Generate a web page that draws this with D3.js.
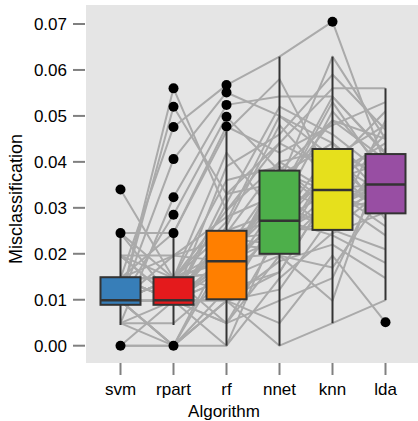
<!DOCTYPE html>
<html>
<head>
<meta charset="utf-8">
<script src="https://cdn.jsdelivr.net/npm/d3@7"></script>
<style>
  html, body { margin: 0; padding: 0; background: #ffffff; }
  svg { display: block; font-family: "Liberation Sans", Arial, sans-serif; }
</style>
</head>
<body>
<svg id="chart" width="418" height="421"></svg>
<script>
// Algorithms compared, in plotting order
const algorithms = ["svm", "rpart", "rf", "nnet", "knn", "lda"];
const boxColors = ["#377EB8", "#E41A1C", "#FF7F00", "#4DAF4A", "#E6E01C", "#984EA3"];

// Misclassification rate per resampling fold (same fold order in every array)
const svm   = [0, 0.0098, 0.0098, 0.0147, 0.0098, 0.0049, 0.0098, 0.0147, 0.0245, 0.0245,
               0.0245, 0.0340, 0.0196, 0.0196, 0.0196, 0.0147, 0.0147, 0.0098, 0.0098, 0.0147,
               0.0098, 0.0098, 0.0049, 0.0098, 0.0098, 0.0147, 0.0098, 0.0098, 0.0049, 0.0098,
               0.0147, 0.0098, 0.0098, 0.0098, 0, 0.0098, 0.0147, 0, 0.0098, 0.0098,
               0.0147, 0.0098, 0.0049, 0.0098, 0.0147, 0.0098, 0.0196, 0.0098, 0.0147, 0.0098];
const rpart = [0, 0.0560, 0.0520, 0.0476, 0.0406, 0.0323, 0.0285, 0.0245, 0.0245, 0.0147,
               0.0098, 0.0147, 0.0098, 0.0196, 0.0098, 0.0147, 0.0098, 0.0098, 0, 0.0147,
               0.0098, 0.0147, 0.0098, 0.0196, 0.0098, 0.0098, 0.0147, 0.0098, 0.0049, 0.0098,
               0.0147, 0.0098, 0, 0.0098, 0, 0, 0.0098, 0.0098, 0.0147, 0.0098,
               0.0098, 0.0147, 0, 0.0147, 0.0196, 0.0098, 0.0147, 0, 0.0098, 0.0147];
const rf    = [0, 0.0294, 0.0330, 0.0567, 0.0551, 0.0524, 0.0498, 0.0477, 0.0466, 0.0420,
               0.0390, 0.0360, 0.0310, 0.0280, 0.0260, 0.0250, 0.0245, 0.0233, 0.0220, 0.0208,
               0.0196, 0.0190, 0.0184, 0.0184, 0.0184, 0.0172, 0.0160, 0.0147, 0.0147, 0.0147,
               0.0122, 0.0101, 0.0098, 0.0098, 0.0098, 0.0098, 0.0049, 0.0049, 0.0049, 0,
               0.0330, 0.0270, 0.0196, 0.0160, 0.0233, 0.0101, 0.0294, 0.0122, 0.0245, 0.0184];
const nnet  = [0.0147, 0.0441, 0.0355, 0.0629, 0.0500, 0.0542, 0.0380, 0.0420, 0.0580, 0.0272,
               0.0460, 0.0390, 0.0520, 0.0330, 0.0480, 0.0294, 0.0400, 0.0245, 0.0210, 0.0370,
               0.0305, 0.0200, 0.0265, 0.0343, 0.0233, 0.0381, 0.0285, 0.0255, 0.0196, 0.0320,
               0.0275, 0.0160, 0.0184, 0.0122, 0, 0.0049, 0.0098, 0.0196, 0.0245, 0.0270,
               0.0441, 0.0500, 0.0343, 0.0381, 0.0220, 0.0294, 0.0400, 0.0160, 0.0272, 0.0330];
const knn   = [0.0245, 0.0560, 0.0629, 0.0705, 0.0410, 0.0542, 0.0330, 0.0480, 0.0360, 0.0392,
               0.0590, 0.0300, 0.0460, 0.0542, 0.0350, 0.0510, 0.0428, 0.0270, 0.0320, 0.0441,
               0.0260, 0.0400, 0.0380, 0.0490, 0.0339, 0.0294, 0.0370, 0.0252, 0.0170, 0.0530,
               0.0240, 0.0343, 0.0220, 0.0285, 0.0049, 0.0196, 0.0147, 0.0098, 0.0310, 0.0339,
               0.0380, 0.0441, 0.0294, 0.0490, 0.0400, 0.0260, 0.0330, 0.0343, 0.0428, 0.0252];
const lda   = [0.0290, 0.0560, 0.0450, 0.0392, 0.0480, 0.0420, 0.0343, 0.0530, 0.0400, 0.0510,
               0.0470, 0.0352, 0.0370, 0.0417, 0.0300, 0.0380, 0.0275, 0.0360, 0.0240, 0.0351,
               0.0490, 0.0330, 0.0288, 0.0405, 0.0260, 0.0320, 0.0441, 0.0210, 0.0335, 0.0365,
               0.0180, 0.0310, 0.0147, 0.0345, 0.0099, 0.0051, 0.0390, 0.0430, 0.0350, 0.0460,
               0.0405, 0.0320, 0.0380, 0.0450, 0.0300, 0.0417, 0.0288, 0.0351, 0.0360, 0.0343];

// Box summaries: lower whisker, first quartile, median, third quartile, upper whisker
const whiskerLow  = [0.0045, 0.0045, 0.0000, 0.0000, 0.0049, 0.0099];
const quartile1   = [0.0089, 0.0089, 0.0101, 0.0200, 0.0252, 0.0288];
const medians     = [0.0099, 0.0099, 0.0184, 0.0272, 0.0339, 0.0351];
const quartile3   = [0.0149, 0.0149, 0.0250, 0.0381, 0.0428, 0.0417];
const whiskerHigh = [0.0240, 0.0240, 0.0466, 0.0629, 0.0629, 0.0560];

// Points outside the whiskers
const outliers = [
  [0, 0.0245, 0.0340],
  [0, 0.0245, 0.0285, 0.0323, 0.0406, 0.0476, 0.0520, 0.0560],
  [0.0477, 0.0498, 0.0524, 0.0551, 0.0567],
  [],
  [0.0705],
  [0.0051]
];

const yTicks = [0, 0.01, 0.02, 0.03, 0.04, 0.05, 0.06, 0.07];

const folds = d3.range(svm.length).map(i => [svm[i], rpart[i], rf[i], nnet[i], knn[i], lda[i]]);

const svg = d3.select("#chart");
const panel = { left: 86, right: 418, top: 5, bottom: 363 };

const x = d3.scalePoint().domain(algorithms).range([120.5, 385.5]);
const y = d3.scaleLinear().domain([0, 0.07]).range([345.7, 24]);
const boxW = 40;
const fontSize = 17;

// Grey panel background
svg.append("rect")
  .attr("x", panel.left).attr("y", panel.top)
  .attr("width", panel.right - panel.left).attr("height", panel.bottom - panel.top)
  .attr("fill", "#E5E5E5");

// Paired fold lines across algorithms
const line = d3.line().x((d, i) => x(algorithms[i])).y(d => y(d));
svg.append("g")
  .selectAll("path")
  .data(folds)
  .join("path")
  .attr("d", line)
  .attr("fill", "none")
  .attr("stroke", "#AAAAAA")
  .attr("stroke-width", 2)
  .attr("stroke-linejoin", "round");

// Boxplots
const boxes = svg.append("g")
  .selectAll("g")
  .data(algorithms)
  .join("g");

boxes.append("line")
  .attr("x1", d => x(d)).attr("x2", d => x(d))
  .attr("y1", (d, i) => y(whiskerLow[i])).attr("y2", (d, i) => y(quartile1[i]))
  .attr("stroke", "#333333").attr("stroke-width", 2);

boxes.append("line")
  .attr("x1", d => x(d)).attr("x2", d => x(d))
  .attr("y1", (d, i) => y(quartile3[i])).attr("y2", (d, i) => y(whiskerHigh[i]))
  .attr("stroke", "#333333").attr("stroke-width", 2);

boxes.append("rect")
  .attr("x", d => x(d) - boxW / 2)
  .attr("y", (d, i) => y(quartile3[i]))
  .attr("width", boxW)
  .attr("height", (d, i) => y(quartile1[i]) - y(quartile3[i]))
  .attr("fill", (d, i) => boxColors[i])
  .attr("stroke", "#333333").attr("stroke-width", 2);

boxes.append("line")
  .attr("x1", d => x(d) - boxW / 2).attr("x2", d => x(d) + boxW / 2)
  .attr("y1", (d, i) => y(medians[i])).attr("y2", (d, i) => y(medians[i]))
  .attr("stroke", "#333333").attr("stroke-width", 2.5);

boxes.selectAll("circle")
  .data((d, i) => outliers[i].map(v => ({ alg: d, v })))
  .join("circle")
  .attr("cx", p => x(p.alg))
  .attr("cy", p => y(p.v))
  .attr("r", 5)
  .attr("fill", "#000000");

// Y axis
const yAxis = svg.append("g");
yAxis.selectAll("line")
  .data(yTicks)
  .join("line")
  .attr("x1", 73).attr("x2", 85)
  .attr("y1", d => y(d)).attr("y2", d => y(d))
  .attr("stroke", "#808080").attr("stroke-width", 2);
yAxis.selectAll("text")
  .data(yTicks)
  .join("text")
  .attr("x", 67)
  .attr("y", d => y(d))
  .attr("dy", "0.36em")
  .attr("text-anchor", "end")
  .attr("font-size", fontSize)
  .attr("fill", "#000000")
  .text(d3.format(".2f"));

// X axis
const xAxis = svg.append("g");
xAxis.selectAll("line")
  .data(algorithms)
  .join("line")
  .attr("x1", d => x(d)).attr("x2", d => x(d))
  .attr("y1", 363).attr("y2", 375)
  .attr("stroke", "#808080").attr("stroke-width", 2);
xAxis.selectAll("text")
  .data(algorithms)
  .join("text")
  .attr("x", d => x(d))
  .attr("y", 395)
  .attr("text-anchor", "middle")
  .attr("font-size", fontSize)
  .attr("fill", "#000000")
  .text(d => d);

// Axis titles
svg.append("text")
  .attr("x", 224)
  .attr("y", 417)
  .attr("text-anchor", "middle")
  .attr("font-size", fontSize)
  .attr("fill", "#000000")
  .text("Algorithm");

svg.append("text")
  .attr("transform", "translate(21.5, 199) rotate(-90)")
  .attr("text-anchor", "middle")
  .attr("font-size", 18)
  .attr("fill", "#000000")
  .text("Misclassification");
</script>
</body>
</html>
